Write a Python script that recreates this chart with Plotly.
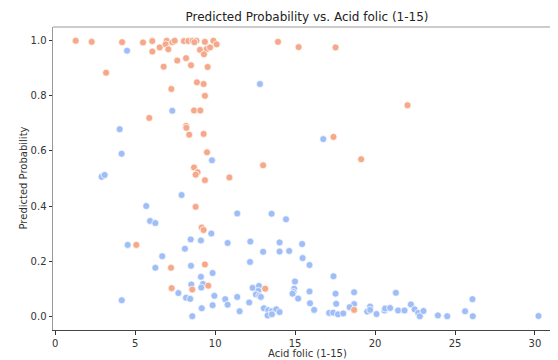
import plotly.graph_objects as go

# Orange series (predicted positive)
orange_x = [1.28, 2.28, 4.18, 5.49, 6.07, 6.07, 6.53, 6.97, 6.9, 7.07, 7.32, 7.47, 8.05, 8.32, 8.59, 8.83, 8.7,
            9.36, 9.89, 10.09, 9.05, 9.47, 9.68, 9.3, 7.63, 8.18, 8.49, 6.78, 9.53, 3.18, 8.86, 9.28, 7.26,
            9.36, 8.68, 9.07, 5.88, 8.18, 8.2, 8.38, 9.28, 9.49, 8.68, 8.9, 8.78, 9.36, 8.78, 9.16, 9.28,
            5.07, 7.24, 9.36, 9.57, 7.28, 8.57, 13.93, 15.22, 17.53, 17.4, 19.13, 13.0, 22.03, 10.89,
            13.13, 18.69]
orange_y = [1.0, 0.996, 0.995, 0.994, 0.999, 0.961, 0.976, 1.0, 0.987, 0.969, 0.995, 1.0, 0.999, 0.999, 1.0, 1.0, 0.995,
            0.996, 1.0, 0.987, 0.967, 0.97, 0.976, 0.951, 0.928, 0.937, 0.911, 0.906, 0.905, 0.884, 0.849, 0.843, 0.825,
            0.8, 0.747, 0.747, 0.72, 0.691, 0.684, 0.659, 0.662, 0.595, 0.54, 0.523, 0.514, 0.494, 0.397, 0.322, 0.313,
            0.259, 0.176, 0.188, 0.111, 0.102, 0.097, 0.996, 0.977, 0.976, 0.651, 0.57, 0.548, 0.766, 0.504,
            0.1, 0.023]

# Blue series (predicted negative)
blue_x = [4.49, 12.8, 7.32, 4.03, 16.76, 4.15, 9.8, 2.9, 3.09, 7.9, 5.69, 5.93, 6.26, 11.38, 13.53, 14.43,
          9.76, 8.47, 9.11, 4.53, 8.11, 6.69, 6.26, 8.49, 9.84, 9.11, 8.51, 9.24, 9.13, 7.7, 8.18, 8.44,
          9.95, 4.16, 9.84, 9.16, 8.57, 10.78, 12.2, 14.03, 15.44, 13.0, 14.03, 14.63, 15.47, 15.9, 12.18,
          17.4, 14.99, 12.34, 12.74, 12.7, 12.55, 12.76, 12.86, 14.94, 14.9, 14.84, 15.9, 17.53, 18.69,
          11.38, 10.63, 10.78, 12.13, 15.19, 15.93, 17.57, 18.69, 11.53, 13.05, 13.32, 13.55, 13.82, 14.03,
          13.28, 13.55, 16.19, 17.13, 17.38, 17.68, 18.01, 18.41, 19.51, 19.69, 19.69, 20.09, 21.3, 20.59,
          20.63, 20.94, 21.44, 21.84, 22.24, 22.47, 22.7, 22.8, 23.03, 23.93, 24.51, 25.63, 26.09, 26.11, 30.22]
blue_y = [0.964, 0.843, 0.746, 0.679, 0.643, 0.59, 0.566, 0.506, 0.513, 0.44, 0.40, 0.346, 0.338, 0.373, 0.372, 0.352,
          0.30, 0.279, 0.275, 0.259, 0.245, 0.218, 0.176, 0.183, 0.157, 0.143, 0.115, 0.117, 0.104, 0.084, 0.067, 0.063,
          0.074, 0.058, 0.04, 0.029, 0.0, 0.266, 0.271, 0.268, 0.262, 0.234, 0.235, 0.237, 0.211, 0.186, 0.197,
          0.145, 0.126, 0.103, 0.11, 0.092, 0.079, 0.074, 0.07, 0.1, 0.088, 0.082, 0.09, 0.082, 0.087,
          0.07, 0.062, 0.042, 0.05, 0.064, 0.047, 0.045, 0.044, 0.018, 0.029, 0.022, 0.018, 0.025, 0.015,
          0.003, 0.007, 0.023, 0.012, 0.013, 0.007, 0.01, 0.033, 0.017, 0.035, 0.023, 0.008, 0.085, 0.021,
          0.028, 0.03, 0.021, 0.021, 0.043, 0.025, 0.012, 0.0, 0.019, 0.003, 0.0, 0.018, 0.062, 0.0, 0.001]

x_ticks = [0, 5, 10, 15, 20, 25, 30]
y_ticks = [0.0, 0.2, 0.4, 0.6, 0.8, 1.0]
y_tick_labels = ["0.0", "0.2", "0.4", "0.6", "0.8", "1.0"]

FONT = "DejaVu Sans"
BLUE = "#9fbef8"
ORANGE = "#f5a98a"

# The page body has an 8px margin, so the figure is sized 550x352 to fill the 558x360 window.
W, H = 550, 352

fig = go.Figure()
fig.add_trace(go.Scatter(x=blue_x, y=blue_y, mode="markers", name="0",
                         marker=dict(color=BLUE, size=7, line=dict(color="white", width=0.7))))
fig.add_trace(go.Scatter(x=orange_x, y=orange_y, mode="markers", name="1",
                         marker=dict(color=ORANGE, size=7, line=dict(color="white", width=0.7))))

fig.update_layout(
    width=W, height=H,
    margin=dict(l=45, r=0, t=19, b=30),
    paper_bgcolor="white", plot_bgcolor="white",
    showlegend=False,
    font=dict(family=FONT, size=10, color="#333333"),
    title=dict(text="Predicted Probability vs. Acid folic (1-15)", x=0.503, xref="paper",
               xanchor="center", y=1 - 9 / H, yref="container", yanchor="middle",
               font=dict(family=FONT, size=12, color="#222222")),
)
fig.update_xaxes(range=[-0.14, 31.44], tickvals=x_ticks, showgrid=False, zeroline=False,
                 showline=True, linecolor="#444444", linewidth=1, mirror=False,
                 ticks="outside", ticklen=3.5, tickwidth=0.8, tickcolor="#333333",
                 tickfont=dict(size=10, color="#333333"))
fig.update_yaxes(range=[-0.05, 1.05], tickvals=y_ticks, ticktext=y_tick_labels, showgrid=False,
                 zeroline=False, showline=True, linecolor="#999999", linewidth=1,
                 ticks="outside", ticklen=3.5, tickwidth=0.8, tickcolor="#333333",
                 tickfont=dict(size=10, color="#333333"))
# top spine
fig.add_shape(type="line", xref="paper", yref="paper", x0=0, x1=1, y0=1, y1=1,
              line=dict(color="#999999", width=1))
fig.add_annotation(text="Acid folic (1-15)", xref="paper", yref="paper", x=0.503, y=0,
                   xanchor="center", yanchor="middle", yshift=-23, showarrow=False,
                   font=dict(family=FONT, size=10, color="#333333"))
fig.add_annotation(text="Predicted Probability", xref="paper", yref="paper", x=0, y=0.5,
                   xanchor="center", yanchor="middle", xshift=-30, textangle=-90, showarrow=False,
                   font=dict(family=FONT, size=10, color="#333333"))

fig.write_html("out.html")
